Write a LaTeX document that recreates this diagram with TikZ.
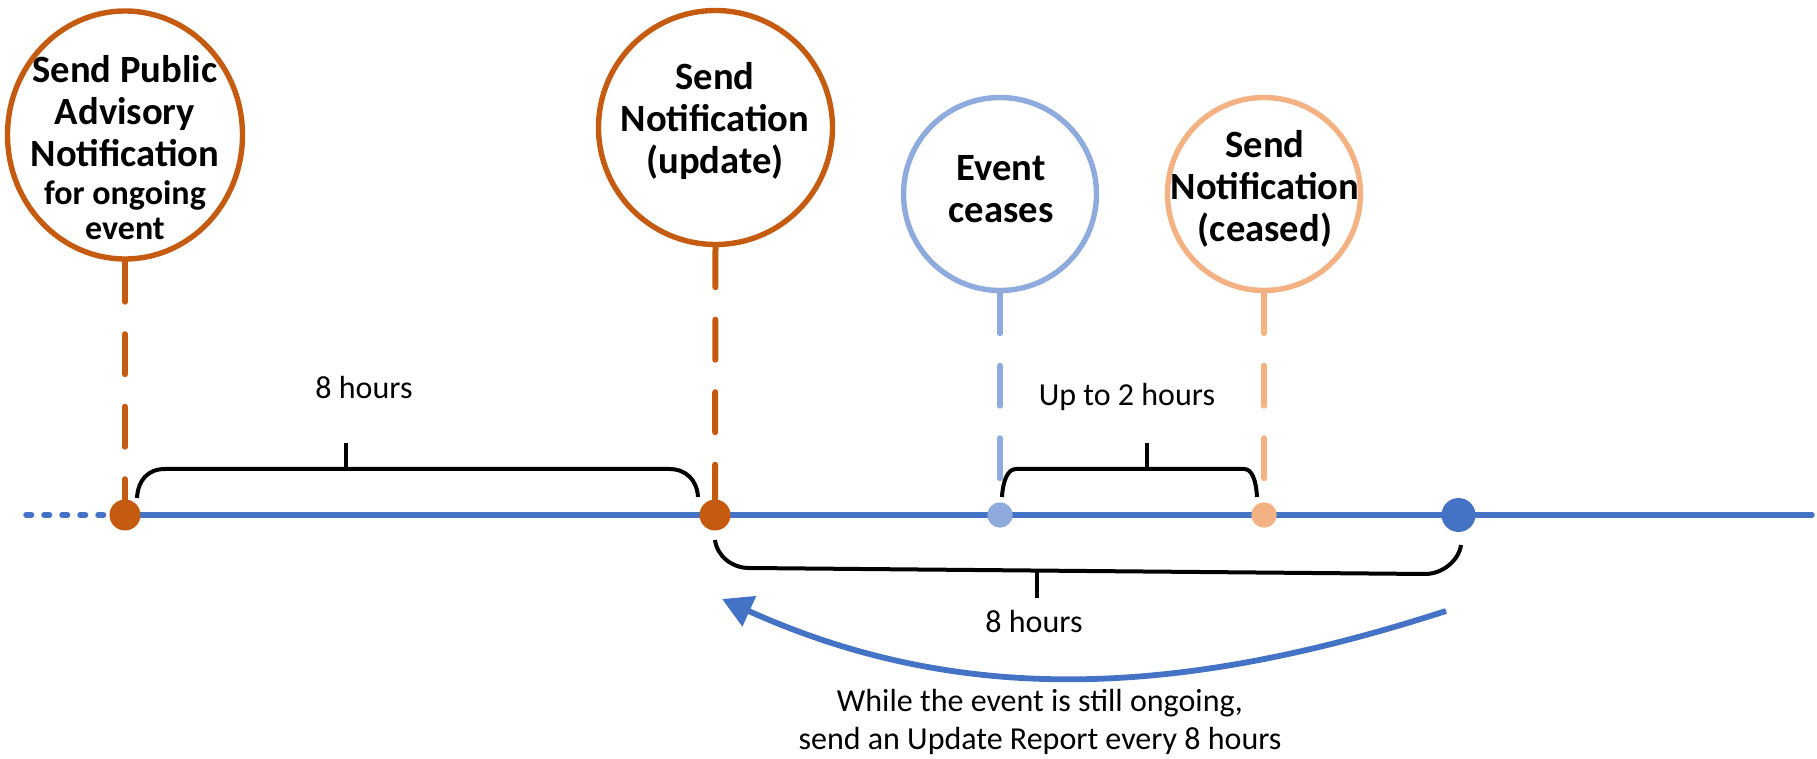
\documentclass[tikz,border=0pt]{standalone}
\usepackage{fontspec}
\setmainfont{Carlito}
\usetikzlibrary{arrows.meta,shapes.geometric}
\definecolor{dkorange}{HTML}{C55A11}
\definecolor{ltblue}{HTML}{8FAADC}
\definecolor{ltorange}{HTML}{F4B183}
\definecolor{mblue}{HTML}{4472C4}
\begin{document}
\begin{tikzpicture}[x=0.5pt,y=-0.5pt,
  ring/.style={draw,line width=2.7pt,fill=white,inner sep=0pt},
  stem/.style={line width=3pt,line cap=round,dash pattern=on 20pt off 16.25pt},
  dot/.style={circle,inner sep=0pt},
  brace/.style={line width=2pt,black},
  lbl/.style={font=\fontsize{16}{19}\selectfont,inner sep=0pt,align=center},
  ctext/.style={font=\bfseries\fontsize{19.3}{20.9}\selectfont,inner sep=0pt,align=center},
]
\path[use as bounding box] (0,0) rectangle (1817,759);

% positions of the points on the timeline
\coordinate (p1) at (125,515);
\coordinate (p2) at (715,515);
\coordinate (p3) at (1000,515);
\coordinate (p4) at (1264,515);
\coordinate (p5) at (1458.5,515);
\coordinate (tlA) at (26,515);
\coordinate (tlC) at (1812,515);

% timeline
\draw[mblue,line width=2.7pt,line cap=round,dash pattern=on 2.8pt off 6.2pt] (tlA) -- (p1);
\draw[mblue,line width=2.7pt,line cap=round] (p1) -- (tlC);

% circles
\node[ring,ellipse,draw=dkorange,minimum width=117.5pt,minimum height=124pt] (c1) at (125,135) {};
\node[ring,circle,draw=dkorange,minimum size=117pt] (c2) at (715.5,127.5) {};
\node[ring,circle,draw=ltblue,minimum size=96.5pt] (c3) at (1000,194) {};
\node[ring,circle,draw=ltorange,minimum size=96.5pt] (c4) at (1264,194) {};

% stems
\draw[stem,dkorange] (c1.south) -- (p1);
\draw[stem,dkorange] (c2.south) -- (p2);
\draw[stem,ltblue] (c3.south) -- (p3);
\draw[stem,ltorange] (c4.south) -- (p4);

% dots
\node[dot,fill=dkorange,minimum size=15.5pt] (d1) at (p1) {};
\node[dot,fill=dkorange,minimum size=15.5pt] (d2) at (p2) {};
\node[dot,fill=ltblue,minimum size=12.7pt] (d3) at (p3) {};
\node[dot,fill=ltorange,minimum size=12.7pt] (d4) at (p4) {};
\node[dot,fill=mblue,minimum size=17pt] (d5) at (p5) {};

% circle texts
\node[ctext] (t1) at (125,111) {Send Public\\Advisory\\Notification};
\node[ctext,font=\bfseries\fontsize{17}{17.8}\selectfont] (t1b) at (125,210) {for ongoing\\event};
\node[ctext] (t2) at (715,121) {Send\\Notification\\(update)};
\node[ctext] (t3) at (1001,189) {Event\\ceases};
\node[ctext] (t4) at (1265,189) {Send\\Notification\\(ceased)};

% brackets
\draw[brace] (137,498) .. controls (138,480) and (148,469) .. (165,469) -- (669,469) .. controls (686,469) and (697,480) .. (698,497);
\draw[brace] (346,469) -- (346,443);
\draw[brace] (1002,497) .. controls (1003,480) and (1008,469) .. (1016,469) -- (1244,469) .. controls (1252,469) and (1256,480) .. (1257,497);
\draw[brace] (1147,469) -- (1147,443);
\draw[brace] (715,540) .. controls (717,556) and (732,568) .. (749,568) -- (1425,574) .. controls (1443,574) and (1459,560) .. (1461,545);
\draw[brace] (1037,571) -- (1037,598);

% labels
\node[lbl] (h1) at (364,388) {8 hours};
\node[lbl] (h2) at (1127,397) {Up to 2 hours};
\node[lbl] (h3) at (1034,622) {8 hours};
\node[lbl] (note) at (1040,722) {While the event is still ongoing,\\send an Update Report every 8 hours};

% return arrow
\coordinate (aS) at (1446,611);
\coordinate (aE) at (722,599);
\draw[mblue,line width=2.9pt,-{Triangle[length=15pt,width=16pt]}] (aS) .. controls (1189,694) and (968,710) .. (aE);
\end{tikzpicture}
\end{document}
